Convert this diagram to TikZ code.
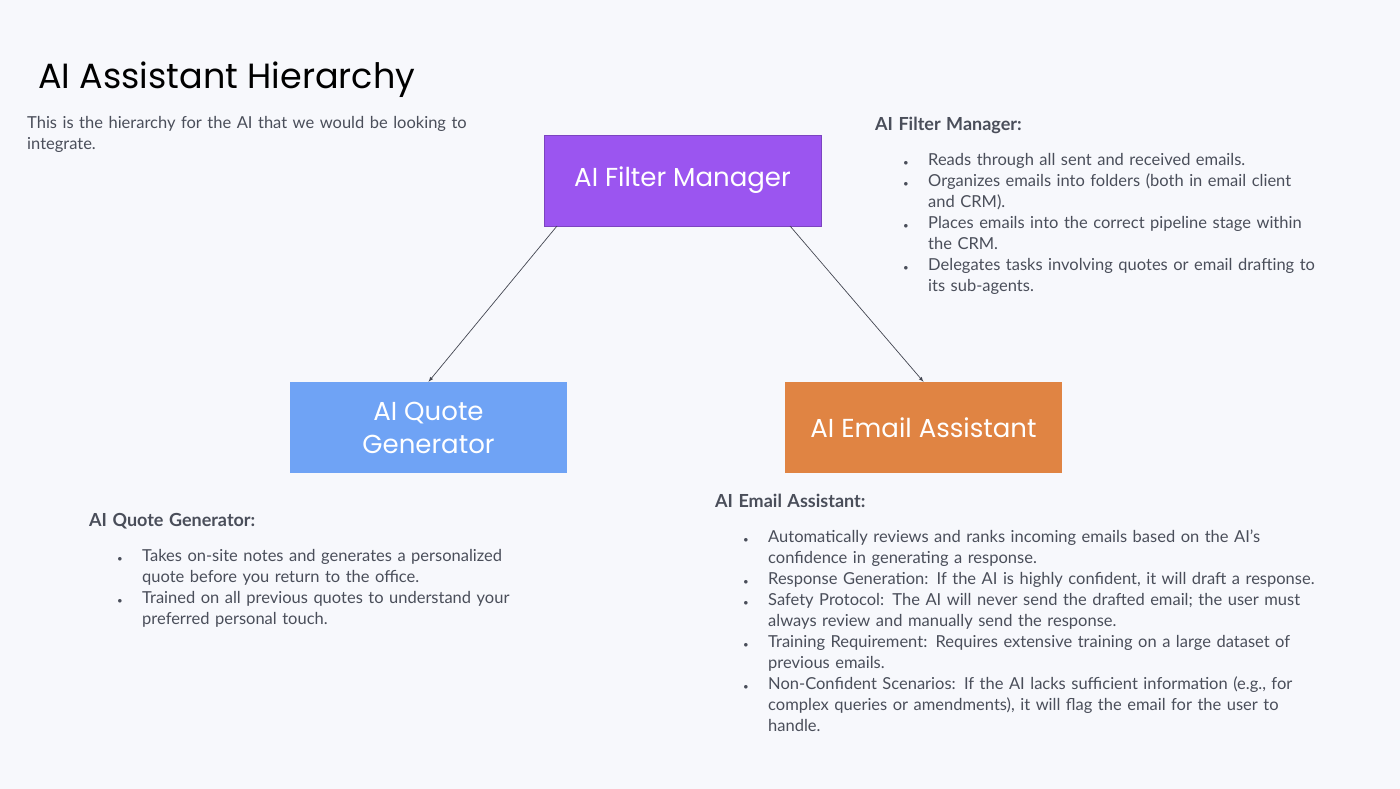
\documentclass[tikz,border=0pt]{standalone}
\usepackage{fontspec}
\usepackage{enumitem}
\setmainfont{Lato}
\newfontfamily\headfont{Poppins}
\usetikzlibrary{positioning}
\definecolor{pagebg}{HTML}{F7F8FC}
\definecolor{bodytext}{HTML}{4A4E5A}
\definecolor{managerfill}{HTML}{9B55F0}
\definecolor{quotefill}{HTML}{6FA3F5}
\definecolor{emailfill}{HTML}{E08443}
\tikzset{
  agent/.style={minimum width=277pt,minimum height=91pt,inner sep=0pt,align=center,
    text=white,font=\headfont\fontsize{26}{33}\selectfont},
  notes/.style={anchor=north west,inner sep=0pt,text=bodytext,align=left,
    font=\fontsize{16.5}{21}\selectfont},
  link/.style={draw=bodytext!90!black,line width=0.7pt,-latex}
}
\setlist[itemize]{leftmargin=33pt,labelsep=20pt,itemsep=0pt,parsep=0pt,topsep=8pt,label={\small$\bullet$}}
\begin{document}
\begin{tikzpicture}[x=1pt,y=-1pt]
    \fill[pagebg] (0,0) rectangle (1400,789);
    \useasboundingbox (0,0) rectangle (1400,789);
    % title
    \node[anchor=base west,inner sep=0pt,text=black,font=\headfont\fontsize{35}{40}\selectfont] (title) at (38,89) {AI Assistant Hierarchy};
    \node[notes,text width=470pt] (intro) at (27,116) {This is the hierarchy for the AI that we would be looking to integrate.};
    % agents
    \node[agent,fill=managerfill,draw=managerfill!80!black] (manager) at (682.5,180.5) {AI Filter Manager};
    \node[agent,fill=quotefill] (quote) at (428.5,427.5) {AI Quote\\Generator};
    \node[agent,fill=emailfill] (email) at (923.5,427.5) {AI Email Assistant};
    \coordinate (mleft) at (557,226);
    \coordinate (mright) at (790,226);
    \draw[link] (mleft) -- (quote.north);
    \draw[link] (mright) -- (email.north);
    % descriptions
    \node[notes,text width=470pt] (managernotes) at (875,117) {\textbf{\fontsize{18}{21}\selectfont AI Filter Manager:}
      \begin{itemize}[leftmargin=53pt,topsep=14pt]
      \item Reads through all sent and received emails.
      \item Organizes emails into folders (both in email client\\and CRM).
      \item Places emails into the correct pipeline stage within\\the CRM.
      \item Delegates tasks involving quotes or email drafting to\\its sub-agents.
      \end{itemize}};
    \node[notes,text width=470pt] (quotenotes) at (89,513) {\textbf{\fontsize{18}{21}\selectfont AI Quote Generator:}
      \begin{itemize}[leftmargin=53pt,topsep=14pt]
      \item Takes on-site notes and generates a personalized\\quote before you return to the office.
      \item Trained on all previous quotes to understand your\\preferred personal touch.
      \end{itemize}};
    \node[notes,text width=640pt] (emailnotes) at (715,494) {\textbf{\fontsize{18}{21}\selectfont AI Email Assistant:}
      \begin{itemize}[leftmargin=53pt,topsep=14pt]
      \item Automatically reviews and ranks incoming emails based on the AI's\\confidence in generating a response.
      \item Response Generation: If the AI is highly confident, it will draft a response.
      \item Safety Protocol: The AI will never send the drafted email; the user must\\always review and manually send the response.
      \item Training Requirement: Requires extensive training on a large dataset of\\previous emails.
      \item Non-Confident Scenarios: If the AI lacks sufficient information (e.g., for\\complex queries or amendments), it will flag the email for the user to\\handle.
      \end{itemize}};
\end{tikzpicture}
\end{document}
